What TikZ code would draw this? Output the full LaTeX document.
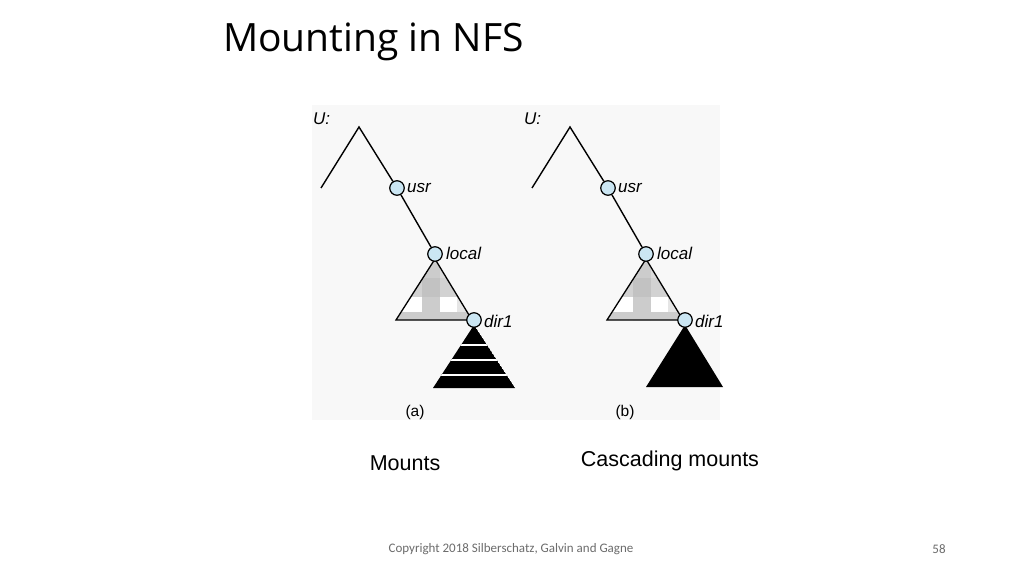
\documentclass[tikz,border=0pt]{standalone}
\usepackage{fontspec}
\newfontfamily\arialf{Liberation Sans}
\newfontfamily\titlef{Open Sans}
\newfontfamily\footf{Carlito}
\definecolor{nodeblue}{HTML}{CBE6F3}
\definecolor{figbg}{HTML}{F8F8F8}
\tikzset{
  dirnode/.style={circle,draw=black,line width=1.2pt,fill=nodeblue,minimum size=14.5pt,inner sep=0pt},
  branch/.style={line width=1.4pt,black},
  lbl/.style={font=\arialf\itshape\fontsize{17}{19}\selectfont,inner sep=0pt,anchor=west},
  figcaption/.style={font=\arialf\fontsize{15.5}{18}\selectfont,inner sep=0pt},
  bigtext/.style={font=\arialf\fontsize{21.5}{25}\selectfont,inner sep=0pt},
}
\newcommand{\treefig}[2]{%
  \begin{scope}[xshift=#2pt]
    \coordinate (#1-apex) at (359,127);
    \coordinate (#1-lend) at (321,188);
    % checkered triangle
    \coordinate (#1-ta) at (435,259);
    \coordinate (#1-tl) at (396,320);
    \coordinate (#1-tr) at (472,320);
    \begin{scope}
      \clip (#1-ta) -- (#1-tl) -- (#1-tr) -- cycle;
      \fill[gray!28] (390,255) rectangle (480,322);
      \fill[white] (390,297) rectangle (422,312);
      \fill[white] (440,297) rectangle (457,312);
      \fill[gray!40] (422,255) rectangle (440,322);
      \fill[gray!20] (457,297) rectangle (467,312);
      \fill[gray!35] (390,278) rectangle (480,297);
      \fill[gray!48] (422,278) rectangle (440,297);
      \fill[gray!40] (390,312) rectangle (480,322);
    \end{scope}
    \draw[line width=1.3pt,line join=miter] (#1-ta) -- (#1-tl) -- (#1-tr) -- cycle;
    \node[dirnode] (#1-usr) at (397,188) {};
    \node[dirnode] (#1-local) at (435,254) {};
    \draw[branch,line join=miter] (#1-lend) -- (#1-apex) -- (#1-usr);
    \draw[branch] (#1-usr) -- (#1-local);
    \node[lbl] (#1-U) at (313,119) {U:};
    \node[lbl] (#1-usrl) at (407,188) {usr};
    \node[lbl] (#1-locall) at (446,253) {local};
    \node[lbl] (#1-dirl) at (484,321) {dir1};
  \end{scope}}
\begin{document}
\begin{tikzpicture}[x=1pt,y=-1pt]
\useasboundingbox (0,0) rectangle (1024,575);
\fill[white] (0,0) rectangle (1024,575);
\fill[figbg] (312,105) rectangle (720,420);
\node[font=\titlef\fontsize{39}{45}\selectfont,anchor=west,inner sep=0pt] (title) at (223,42) {Mounting in NFS};
% (a)
\treefig{a}{0}
\begin{scope}
  \clip (474,325) -- (433,388) -- (515,388) -- cycle;
  \fill[black] (474,325) -- (433,388) -- (515,388) -- cycle;
  \foreach \yy in {345,360,375} \draw[white,line width=2.2pt] (420,\yy) -- (530,\yy);
\end{scope}
\node[dirnode] (a-dir) at (474,320) {};
% (b)
\treefig{b}{211}
\fill[black] (685,325) -- (646,387) -- (723,387) -- cycle;
\node[dirnode] (b-dir) at (685,320) {};
\node[figcaption] (capa) at (415,412) {(a)};
\node[figcaption] (capb) at (625,412) {(b)};
\node[bigtext] (mounts) at (405,463) {Mounts};
\node[bigtext] (casc) at (670,461) {Cascading mounts};
\node[font=\footf\fontsize{13}{15}\selectfont,text=gray!85!black,inner sep=0pt] (copy) at (511,549) {Copyright 2018 Silberschatz, Galvin and Gagne};
\node[font=\footf\fontsize{13}{15}\selectfont,text=gray!85!black,inner sep=0pt] (pg) at (939,549) {58};
\end{tikzpicture}
\end{document}
